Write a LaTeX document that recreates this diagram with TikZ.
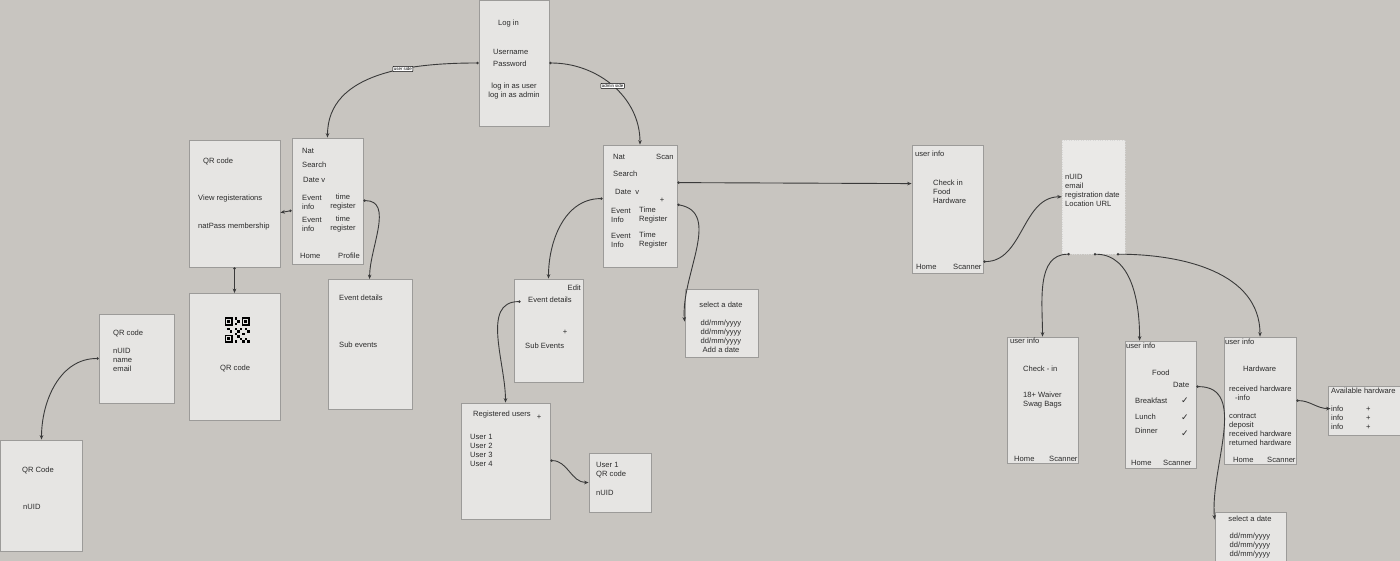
\documentclass[tikz,border=0pt]{standalone}
\usepackage{fontspec}
\setmainfont{Liberation Sans}
\newfontfamily\tickfont{DejaVu Sans}
\usetikzlibrary{positioning,arrows.meta,calc}
\definecolor{canvas}{HTML}{C8C5C0}
\definecolor{panel}{HTML}{E6E5E3}
\definecolor{panelline}{HTML}{9C9B99}
\definecolor{ink}{HTML}{2B2B2B}
\definecolor{wire}{HTML}{3A3A3A}

\begin{document}
\begin{tikzpicture}[x=1pt, y=-1pt,
    screen/.style={rectangle, draw=panelline, fill=panel, line width=0.8pt, inner sep=0pt},
    txt/.style={anchor=west, inner sep=0pt, align=left, text=ink, font=\fontsize{7.6}{9}\selectfont},
    ctxt/.style={txt, anchor=center, align=center},
    tag/.style={draw=black, fill=white, rounded corners=0.6pt, inner sep=1pt, line width=0.5pt, font=\fontsize{4.4}{5}\selectfont},
    link/.style={draw=wire, line width=0.9pt, arrows={Circle[open,length=2.4pt,width=2.4pt]-Stealth[length=4.5pt,width=3.6pt]}}
]
    \useasboundingbox (0,0) rectangle (1400,561);
    \fill[canvas] (0,0) rectangle (1400,561);

    % log in
    \node[screen, minimum width=70pt, minimum height=126pt] (login) at (514,63) {};
    \node[txt] (loginTitle) at (498,24) {Log in};
    \node[txt] (loginFields) at (493,58) {Username\\[3pt]Password};
    \node[ctxt] (loginRoles) at (514,91.5) {log in as user\\log in as admin};

    % user side
    \node[screen, minimum width=71pt, minimum height=126pt] (unat) at (327.5,201) {};
    \node[txt] (unatA) at (302,151) {Nat};
    \node[txt] (unatB) at (302,165) {Search};
    \node[txt] (unatC) at (303,180) {Date v};
    \node[txt] (unatD) at (302,202.5) {Event\\info};
    \node[ctxt] (unatE) at (343,202.5) {time\\register};
    \node[txt] (unatF) at (302,224.5) {Event\\info};
    \node[ctxt] (unatG) at (343,224.5) {time\\register};
    \node[txt] (unatH) at (300,256) {Home};
    \node[txt] (unatI) at (338,256) {Profile};

    \node[screen, minimum width=91pt, minimum height=127pt] (profile) at (234.5,203.5) {};
    \node[txt] (profileA) at (203,161) {QR code};
    \node[txt] (profileB) at (198,199) {View registerations};
    \node[txt] (profileC) at (198,227) {natPass membership};

    \node[screen, minimum width=91pt, minimum height=127pt] (qrimg) at (234.5,357) {};
    \begin{scope}[shift={(224.5,317.5)}]
        \foreach \qx/\qy in {0/0, 17/0, 0/17} {
            \fill[black] (\qx,\qy) rectangle ++(8,8);
            \fill[panel] (\qx+1.4,\qy+1.4) rectangle ++(5.2,5.2);
            \fill[black] (\qx+2.8,\qy+2.8) rectangle ++(2.4,2.4);
        }
        \foreach \qx/\qy in {10/0, 12.5/2.5, 10/5, 10/10, 2.5/10, 15/10, 20/10, 12.5/12.5, 22.5/12.5, 10/15, 17.5/15, 12.5/17.5, 15/20, 20/20, 10/22.5, 17.5/22.5, 22.5/22.5, 5/12.5}
            \fill[black] (\qx,\qy) rectangle ++(2.6,2.6);
    \end{scope}
    \node[txt] (qrimgText) at (220,368) {QR code};

    \node[screen, minimum width=75pt, minimum height=89pt] (qrinfo) at (136.5,358.5) {};
    \node[txt] (qrinfoA) at (113,333) {QR code};
    \node[txt] (qrinfoB) at (113,360) {nUID\\name\\email};

    \node[screen, minimum width=82pt, minimum height=111pt] (qrcard) at (41.5,495.5) {};
    \node[txt] (qrcardA) at (22,470) {QR Code};
    \node[txt] (qrcardB) at (23,507) {nUID};

    \node[screen, minimum width=84pt, minimum height=130pt] (uevent) at (370,344.5) {};
    \node[txt] (ueventA) at (339,298) {Event details};
    \node[txt] (ueventB) at (339,345) {Sub events};

    % admin side
    \node[screen, minimum width=74pt, minimum height=122pt] (anat) at (640,206) {};
    \node[txt] (anatA) at (613,157) {Nat};
    \node[txt] (anatB) at (656,157) {Scan};
    \node[txt] (anatC) at (613,174) {Search};
    \node[txt] (anatD) at (615,192) {Date\ \ v};
    \node[ctxt] (anatE) at (662,200) {+};
    \node[txt] (anatF) at (611,215.5) {Event\\Info};
    \node[txt] (anatG) at (639,215.5) {Time\\Register};
    \node[txt] (anatH) at (611,240.5) {Event\\Info};
    \node[txt] (anatI) at (639,240.5) {Time\\Register};

    \node[screen, minimum width=69pt, minimum height=103pt] (aevent) at (548.5,330.5) {};
    \node[txt, anchor=east] (aeventA) at (581,288) {Edit};
    \node[txt] (aeventB) at (528,300) {Event details};
    \node[ctxt] (aeventC) at (565,332) {+};
    \node[txt] (aeventD) at (525,346) {Sub Events};

    \node[screen, minimum width=73pt, minimum height=68pt] (seldate) at (721.5,323) {};
    \node[ctxt] (seldateA) at (721,305) {select a date};
    \node[ctxt] (seldateB) at (721,336.5) {dd/mm/yyyy\\dd/mm/yyyy\\dd/mm/yyyy\\Add a date};

    \node[screen, minimum width=89pt, minimum height=116pt] (regusers) at (505.5,461) {};
    \node[txt] (regusersA) at (473,415) {Registered users};
    \node[ctxt] (regusersB) at (539,417) {+};
    \node[txt] (regusersC) at (470,450.5) {User 1\\User 2\\User 3\\User 4};

    \node[screen, minimum width=62pt, minimum height=59pt] (userone) at (620,482.5) {};
    \node[txt] (useroneA) at (596,470.5) {User 1\\QR code};
    \node[txt] (useroneB) at (596,493) {nUID};

    % scanner side
    \node[screen, minimum width=71pt, minimum height=128pt] (uinfo) at (947.5,209) {};
    \node[txt] (uinfoA) at (915,154) {user info};
    \node[txt] (uinfoB) at (933,192) {Check in\\Food\\Hardware};
    \node[txt] (uinfoC) at (916,267) {Home};
    \node[txt] (uinfoD) at (953,267) {Scanner};

    \node[rectangle, fill=panel!85!white, draw=panelline!40, dotted, line width=0.4pt, minimum width=63pt, minimum height=114pt] (nuid) at (1093.5,197) {};
    \node[txt] (nuidA) at (1065,190.5) {nUID\\email\\registration date\\Location URL};

    \node[screen, minimum width=71pt, minimum height=126pt] (checkin) at (1042.5,400) {};
    \node[txt] (checkinA) at (1010,341) {user info};
    \node[txt] (checkinB) at (1023,369) {Check - in};
    \node[txt] (checkinC) at (1023,400.5) {18+ Waiver\\Swag Bags};
    \node[txt] (checkinD) at (1014,459) {Home};
    \node[txt] (checkinE) at (1049,459) {Scanner};

    \node[screen, minimum width=71pt, minimum height=127pt] (food) at (1160.5,404.5) {};
    \node[txt] (foodA) at (1126,346) {user info};
    \node[txt] (foodB) at (1152,373) {Food};
    \node[txt] (foodC) at (1173,385) {Date};
    \node[txt] (foodD) at (1135,401) {Breakfast};
    \node[txt] (foodE) at (1135,417) {Lunch};
    \node[txt] (foodF) at (1135,431) {Dinner};
    \foreach \ty [count=\ti] in {401,418,434}
        \node[ctxt, font=\tickfont\fontsize{9}{9}\selectfont] (foodTick\ti) at (1185,\ty) {✓};
    \node[txt] (foodG) at (1131,463) {Home};
    \node[txt] (foodH) at (1163,463) {Scanner};

    \node[screen, minimum width=72pt, minimum height=127pt] (hw) at (1260,400.5) {};
    \node[txt] (hwA) at (1225,342) {user info};
    \node[txt] (hwB) at (1243,369) {Hardware};
    \node[txt] (hwC) at (1229,389) {received hardware};
    \node[txt] (hwD) at (1235,398) {-info};
    \node[txt] (hwE) at (1229,429.5) {contract\\deposit\\received hardware\\returned hardware};
    \node[txt] (hwF) at (1233,460) {Home};
    \node[txt] (hwG) at (1267,460) {Scanner};

    \node[screen, minimum width=72pt, minimum height=49pt] (availhw) at (1364,410.5) {};
    \node[txt] (availhwA) at (1331,391) {Available hardware};
    \node[txt] (availhwB) at (1331,418) {info\\info\\info};
    \node[txt] (availhwC) at (1366,418) {+\\+\\+};

    \node[screen, minimum width=71pt, minimum height=56pt] (seldatetwo) at (1250.5,540) {};
    \node[ctxt] (seldatetwoA) at (1250,519) {select a date};
    \node[ctxt] (seldatetwoB) at (1250,546) {dd/mm/yyyy\\dd/mm/yyyy\\dd/mm/yyyy};

    % connectors
    \draw[link] (login.west) to[out=180, in=90] node[tag, pos=0.37] (userTag) {user side} (unat.north);
    \draw[link] (login.east) to[out=0, in=90] node[tag, pos=0.5] (adminTag) {admin side} (anat.north);
    \draw[link] ($(unat.north west)+(0,73)$) -- ($(profile.north east)+(0,73)$);
    \draw[link] ($(unat.north east)+(0,63)$) to[out=0, in=90] ($(uevent.north west)+(42,0)$);
    \draw[link] (profile.south) -- (qrimg.north);
    \draw[link] (qrinfo.west) to[out=180, in=90] (qrcard.north);
    \draw[link] ($(anat.north east)+(0,38)$) -- ($(uinfo.north west)+(0,39)$);
    \draw[link] ($(anat.north west)+(0,54)$) to[out=180, in=90] (aevent.north);
    \draw[link] ($(anat.north east)+(0,60)$) to[out=-10, in=95] ($(seldate.north west)+(0,33)$);
    \draw[link] ($(aevent.north west)+(7,23)$) to[out=180, in=90] (regusers.north);
    \draw[link] ($(regusers.north east)+(0,58)$) to[out=0, in=180] (userone.west);
    \draw[link] ($(uinfo.north east)+(0,117)$) to[out=0, in=180] ($(nuid.north west)+(0,57)$);
    \draw[link] ($(nuid.south west)+(8,0)$) to[out=180, in=90] (checkin.north);
    \draw[link] ($(nuid.south west)+(32,0)$) to[out=0, in=90] ($(food.north west)+(15,0)$);
    \draw[link] ($(nuid.south west)+(55,0)$) to[out=0, in=90] (hw.north);
    \draw[link] ($(food.north east)+(0,46)$) to[out=0, in=95] ($(seldatetwo.north west)+(0,8)$);
    \draw[link] ($(hw.north east)+(0,64)$) to[out=0, in=180] ($(availhw.north west)+(3,23)$);
\end{tikzpicture}
\end{document}
